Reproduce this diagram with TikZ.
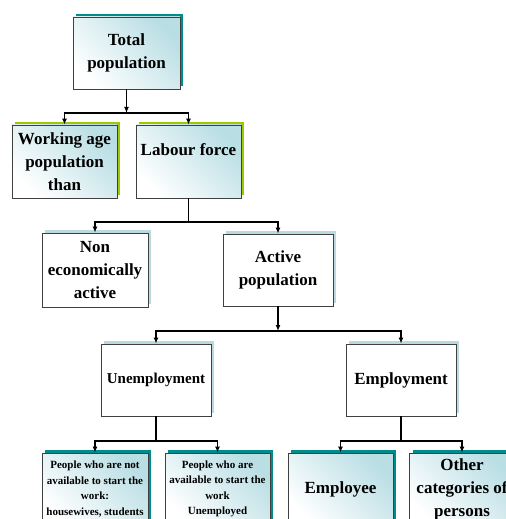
\documentclass[tikz,border=0pt]{standalone}
\usepackage{fontspec}
\setmainfont{Liberation Serif}
\usetikzlibrary{shadows}
\usetikzlibrary{arrows.meta}

\begin{document}
\begin{tikzpicture}
	[x=1bp,y=-1bp,
	%Styles
	>={Latex[length=6bp,width=5bp]},
	box/.style={draw=black!75,line width=0.9bp,inner sep=0pt,align=center,fill=white,
		font=\fontsize{17bp}{23bp}\selectfont\bfseries},
	size/.style 2 args={minimum width=#1bp,minimum height=#2bp},
	shaded/.style={top color=boxtint,bottom color=white,shading angle=-45},
	shadowed/.style={drop shadow={shadow xshift=3bp,shadow yshift=3bp,opacity=1,fill=#1}},
	small/.style={font=\fontsize{11bp}{15.5bp}\selectfont\bfseries},
	narrow/.style={font=\fontsize{15bp}{20bp}\selectfont\bfseries},
	conn/.style={line width=1.8bp}
	]
	
	%Colors
	\definecolor{boxtint}{RGB}{185,222,228}
	\definecolor{tealshade}{RGB}{0,140,140}
	\definecolor{greenshade}{RGB}{160,200,0}
	\definecolor{blueshade}{RGB}{185,218,224}
	
	\clip (0,0) rectangle (506,519);
	
	%The graphic
	\node[box,shaded,shadowed=tealshade,size={107}{72}] (total) at (126.5,53) {Total\\population};
	\node[box,shaded,shadowed=greenshade,size={105}{73}] (work) at (64.5,161.5) {Working age\\population\\than};
	\node[box,shaded,shadowed=greenshade,size={105}{73}] (labour) at (188.5,161.5) {Labour force\\~};
	
	\node[box,shadowed=blueshade,size={106}{74}] (noneco) at (95,270) {Non\\economically\\active};
	\node[box,shadowed=blueshade,size={110}{72}] (active) at (278,270) {Active\\population};
	
	\node[box,narrow,shadowed=blueshade,size={110}{72}] (unemp) at (156,380) {Unemployment};
	\node[box,shadowed=blueshade,size={110}{72}] (emp) at (401,380) {Employment};
	
	\node[box,small,shaded,shadowed=tealshade,size={106}{72}] (notavail) at (95,489)
		{People who are not\\available to start the\\work:\\housewives, students};
	\node[box,small,shaded,shadowed=tealshade,size={105}{72}] (avail) at (217.5,489)
		{People who are\\available to start the\\work\\Unemployed};
	\node[box,shaded,shadowed=tealshade,size={105}{72}] (employee) at (340.5,489) {Employee};
	\node[box,shaded,shadowed=tealshade,size={105}{72}] (other) at (462,489) {Other\\categories of\\persons};
	
	%Branch points
	\coordinate (j1) at (126.5,113);
	\coordinate (j2) at (188.5,222);
	\coordinate (j3) at (278,331);
	\coordinate (j4) at (156,441);
	\coordinate (j5) at (401,441);
	
	\draw[conn,->] (total) -- (j1);
	\draw[conn,->] (j1) -| (work);
	\draw[conn,->] (j1) -| (labour);
	
	\draw[conn] (labour) -- (j2);
	\draw[conn,->] (j2) -| (noneco);
	\draw[conn,->] (j2) -| (active);
	
	\draw[conn,->] (active) -- (j3);
	\draw[conn,->] (j3) -| (unemp);
	\draw[conn,->] (j3) -| (emp);
	
	\draw[conn] (unemp) -- (j4);
	\draw[conn,->] (j4) -| (notavail);
	\draw[conn,->] (j4) -| (avail);
	
	\draw[conn] (emp) -- (j5);
	\draw[conn,->] (j5) -| (employee);
	\draw[conn,->] (j5) -| (other);
\end{tikzpicture}
\end{document}
